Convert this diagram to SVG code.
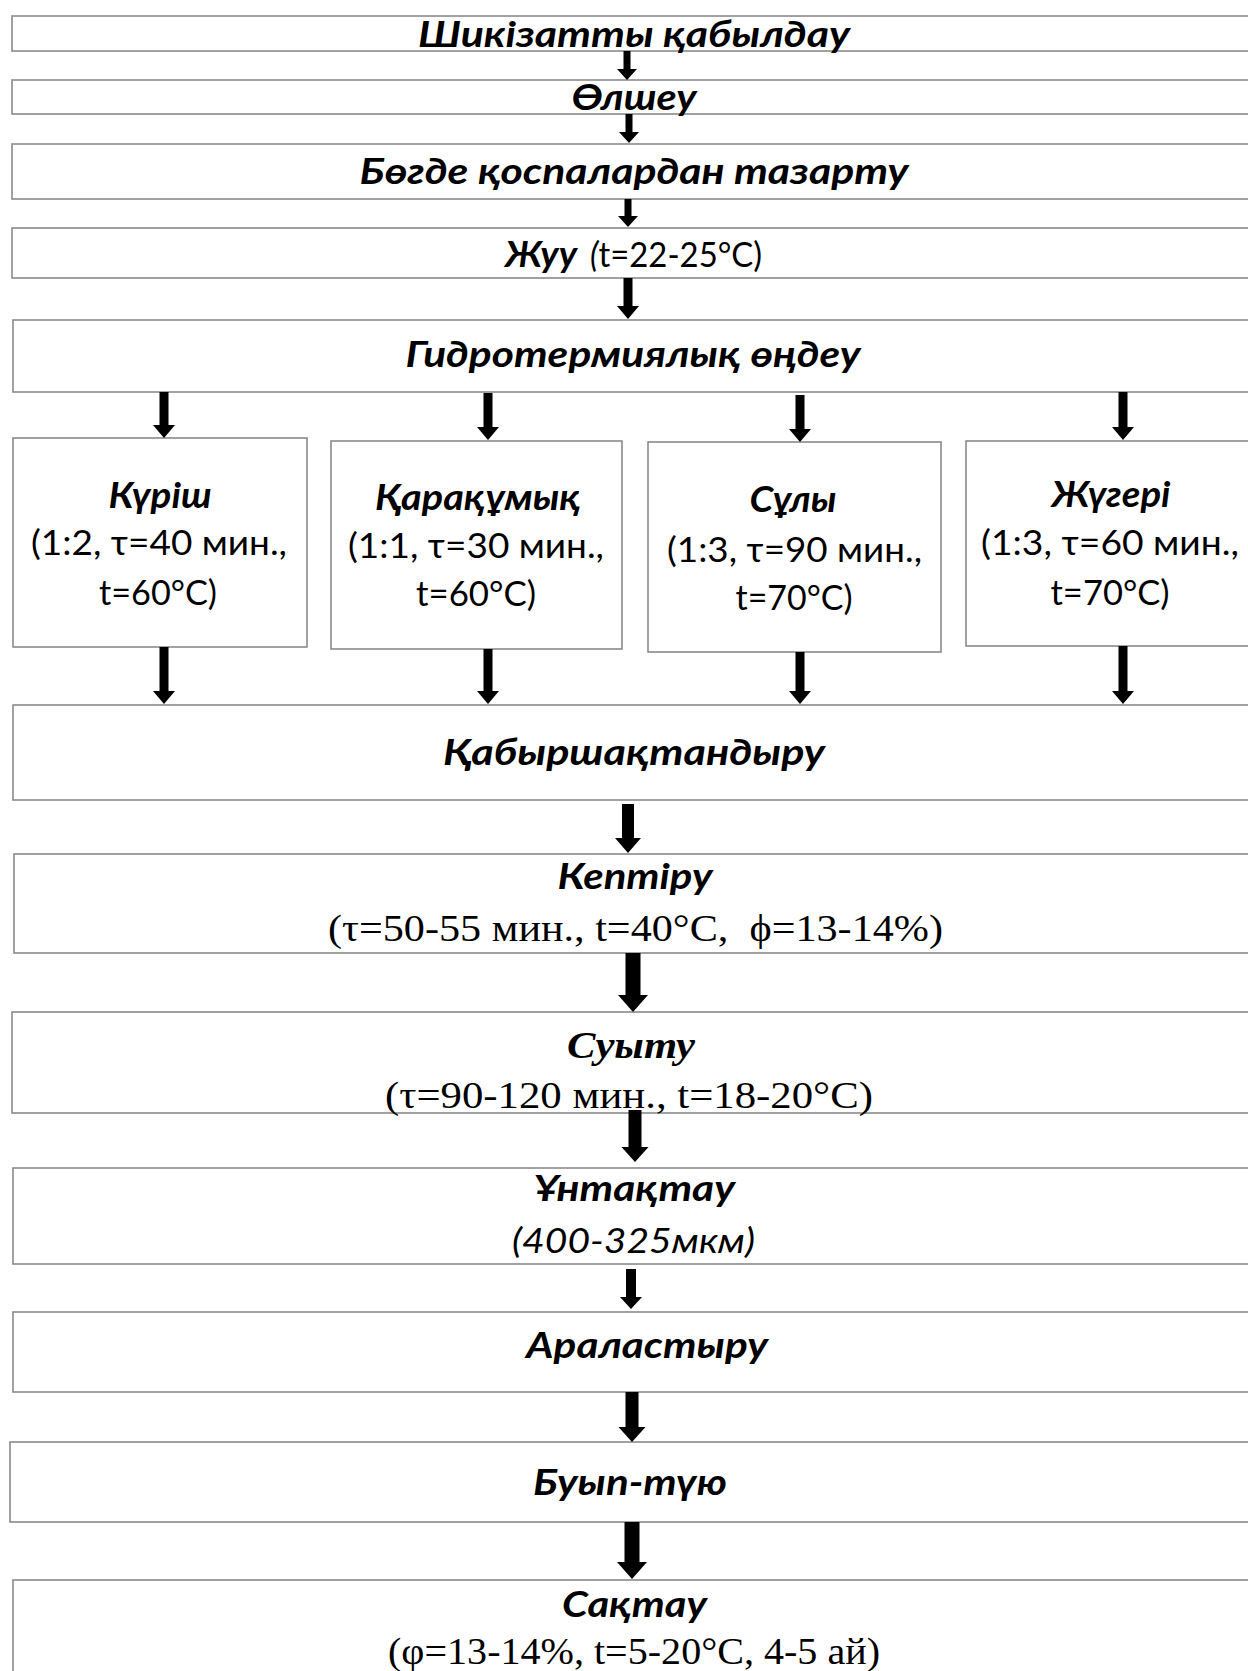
<svg xmlns="http://www.w3.org/2000/svg" width="1248" height="1671" viewBox="0 0 1248 1671">
<style>
.box{fill:#fff;stroke:#8a8a8a;stroke-width:1.6}
.t{font-family:Lato,'Noto Sans',sans-serif;font-weight:bold;font-style:italic;font-size:36px;text-anchor:middle;fill:#000}
.r{font-family:Lato,'Noto Sans',sans-serif;font-size:34px;text-anchor:middle;fill:#000}
.ri{font-family:Lato,'Noto Sans',sans-serif;font-size:34px;font-style:italic;text-anchor:middle;fill:#000}
.s{font-family:'Liberation Serif',serif;font-size:37px;text-anchor:middle;fill:#000;white-space:pre}
.sb{font-family:'Liberation Serif',serif;font-size:37px;font-weight:bold;font-style:italic;text-anchor:middle;fill:#000}
.arr{fill:#000}
</style>
<rect x="0" y="0" width="1248" height="1671" fill="#fff"/>
<g id="n1"><rect class="box" x="12" y="16" width="1260" height="35"/><text class="t" x="634" y="47" textLength="432" lengthAdjust="spacingAndGlyphs">Шикізатты қабылдау</text></g>
<g id="n2"><rect class="box" x="12" y="80" width="1260" height="34"/><text class="t" x="634" y="110" textLength="125" lengthAdjust="spacingAndGlyphs">Өлшеу</text></g>
<g id="n3"><rect class="box" x="12" y="144" width="1260" height="55"/><text class="t" x="634" y="184" textLength="549" lengthAdjust="spacingAndGlyphs">Бөгде қоспалардан тазарту</text></g>
<g id="n4"><rect class="box" x="12" y="228" width="1260" height="50"/><text class="t" x="505" y="267" style="text-anchor:start" textLength="72" lengthAdjust="spacingAndGlyphs">Жуу</text><text class="r" x="590" y="267" style="text-anchor:start" textLength="172" lengthAdjust="spacingAndGlyphs"><tspan font-style="italic">(</tspan>t=22-25°C)</text></g>
<g id="n5"><rect class="box" x="13" y="320" width="1260" height="72"/><text class="t" x="633" y="367" textLength="455" lengthAdjust="spacingAndGlyphs">Гидротермиялық өңдеу</text></g>
<g id="n6"><rect class="box" x="13" y="438" width="294" height="209"/><text class="t" x="160" y="508" textLength="103" lengthAdjust="spacingAndGlyphs">Күріш</text><text class="r" x="159" y="555" textLength="256" lengthAdjust="spacingAndGlyphs">(1:2, τ=40 мин.,</text><text class="r" x="158" y="605" textLength="118" lengthAdjust="spacingAndGlyphs">t=60°C)</text></g>
<g id="n7"><rect class="box" x="331" y="441" width="291" height="208"/><text class="t" x="478" y="510" textLength="206" lengthAdjust="spacingAndGlyphs">Қарақұмық</text><text class="r" x="476" y="558" textLength="256" lengthAdjust="spacingAndGlyphs">(1:1, τ=30 мин.,</text><text class="r" x="476" y="606" textLength="120" lengthAdjust="spacingAndGlyphs">t=60°C)</text></g>
<g id="n8"><rect class="box" x="648" y="442" width="293" height="210"/><text class="t" x="793" y="512" textLength="87" lengthAdjust="spacingAndGlyphs">Сұлы</text><text class="r" x="794.5" y="562" textLength="255" lengthAdjust="spacingAndGlyphs">(1:3, τ=90 мин.,</text><text class="r" x="794" y="610" textLength="117" lengthAdjust="spacingAndGlyphs">t=70°C)</text></g>
<g id="n9"><rect class="box" x="966" y="441" width="300" height="205"/><text class="t" x="1111" y="507" textLength="119" lengthAdjust="spacingAndGlyphs">Жүгері</text><text class="r" x="1110" y="555" textLength="258" lengthAdjust="spacingAndGlyphs">(1:3, τ=60 мин.,</text><text class="r" x="1110" y="605" textLength="119" lengthAdjust="spacingAndGlyphs">t=70°C)</text></g>
<g id="n10"><rect class="box" x="13" y="705" width="1260" height="95"/><text class="t" x="634" y="765" textLength="382" lengthAdjust="spacingAndGlyphs">Қабыршақтандыру</text></g>
<g id="n11"><rect class="box" x="14" y="854" width="1260" height="99"/><text class="t" x="635" y="889" textLength="155" lengthAdjust="spacingAndGlyphs">Кептіру</text><text class="s" x="635.5" y="941" textLength="615" lengthAdjust="spacingAndGlyphs">(τ=50-55 мин., t=40°C,  ϕ=13-14%)</text></g>
<g id="n12"><rect class="box" x="12" y="1012" width="1260" height="101"/><text class="sb" x="631" y="1058" textLength="128" lengthAdjust="spacingAndGlyphs">Суыту</text><text class="s" x="629" y="1108" textLength="488" lengthAdjust="spacingAndGlyphs">(τ=90-120 мин., t=18-20°C)</text></g>
<g id="n13"><rect class="box" x="13" y="1168" width="1260" height="96"/><text class="t" x="634" y="1201" textLength="202" lengthAdjust="spacingAndGlyphs">Ұнтақтау</text><text class="ri" x="633.5" y="1253" textLength="243" lengthAdjust="spacingAndGlyphs">(400-325мкм)</text></g>
<g id="n14"><rect class="box" x="13" y="1312" width="1260" height="80"/><text class="t" x="647" y="1358" textLength="242" lengthAdjust="spacingAndGlyphs">Араластыру</text></g>
<g id="n15"><rect class="box" x="10" y="1442" width="1260" height="80"/><text class="t" x="630" y="1495" textLength="194" lengthAdjust="spacingAndGlyphs">Буып-түю</text></g>
<g id="n16"><rect class="box" x="13" y="1580" width="1260" height="110"/><text class="t" x="634.5" y="1617" textLength="145" lengthAdjust="spacingAndGlyphs">Сақтау</text><text class="s" x="634" y="1664" textLength="492" lengthAdjust="spacingAndGlyphs">(φ=13-14%, t=5-20°C, 4-5 ай)</text></g>
<g id="connectors">
<polygon class="arr" points="623.5,51 630.5,51 630.5,69 637,69 627,80 617,69 623.5,69"/>
<polygon class="arr" points="625.5,114 632.5,114 632.5,132 639,132 629,143 619,132 625.5,132"/>
<polygon class="arr" points="624.5,199 631.5,199 631.5,216 638,216 628,227 618,216 624.5,216"/>
<polygon class="arr" points="623.5,278 632.5,278 632.5,306 639,306 628,319 617,306 623.5,306"/>
<polygon class="arr" points="159.5,392 168.5,392 168.5,425 175,425 164,438 153,425 159.5,425"/>
<polygon class="arr" points="483.5,393 492.5,393 492.5,427 499,427 488,440 477,427 483.5,427"/>
<polygon class="arr" points="795.5,395 804.5,395 804.5,429 811,429 800,442 789,429 795.5,429"/>
<polygon class="arr" points="1118.5,392 1127.5,392 1127.5,427 1134,427 1123,440 1112,427 1118.5,427"/>
<polygon class="arr" points="159.5,647 168.5,647 168.5,691 175,691 164,704 153,691 159.5,691"/>
<polygon class="arr" points="483.5,649 492.5,649 492.5,691 499,691 488,704 477,691 483.5,691"/>
<polygon class="arr" points="795.5,652 804.5,652 804.5,691 811,691 800,704 789,691 795.5,691"/>
<polygon class="arr" points="1118.5,646 1127.5,646 1127.5,691 1134,691 1123,704 1112,691 1118.5,691"/>
<polygon class="arr" points="622,804 634,804 634,838 641,838 628,853 615,838 622,838"/>
<polygon class="arr" points="625.5,953 640.5,953 640.5,995 648,995 633,1012 618,995 625.5,995"/>
<polygon class="arr" points="628.5,1110 641.5,1110 641.5,1147 648.5,1147 635,1162 621.5,1147 628.5,1147"/>
<polygon class="arr" points="626,1269 636,1269 636,1297 642,1297 631,1309 620,1297 626,1297"/>
<polygon class="arr" points="625.5,1392 638.5,1392 638.5,1427 645.5,1427 632,1442 618.5,1427 625.5,1427"/>
<polygon class="arr" points="624.5,1522 639.5,1522 639.5,1562 647,1562 632,1579 617,1562 624.5,1562"/>
</g>
</svg>
